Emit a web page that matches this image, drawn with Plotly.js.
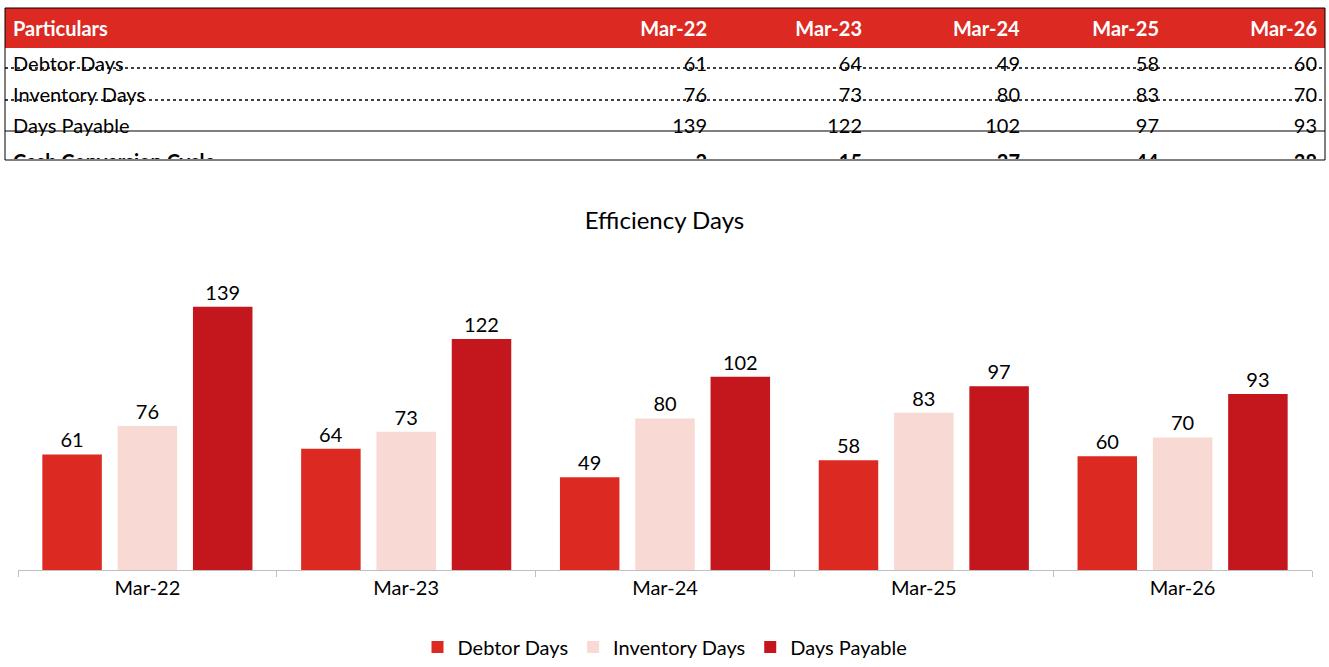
<!DOCTYPE html>
<html>
<head>
<meta charset="utf-8">
<script src="https://cdn.plot.ly/plotly-3.0.1.min.js"></script>
<style>html,body{margin:0;padding:0;background:#fff}</style>
</head>
<body>
<div id="chart" style="width:1329px;height:667px"></div>
<script>
// ── data ──
const periods = ['Mar-22', 'Mar-23', 'Mar-24', 'Mar-25', 'Mar-26'];
const debtorDays = [61, 64, 49, 58, 60];
const inventoryDays = [76, 73, 80, 83, 70];
const daysPayable = [139, 122, 102, 97, 93];
const cashCycle = [-2, 15, 27, 44, 38];
const rowNames = ['Debtor Days', 'Inventory Days', 'Days Payable', 'Cash Conversion Cycle'];

const FONT = 'Lato, "Open Sans", sans-serif';
const RED = '#DC2A22', PINK = '#F9D9D4', DARK = '#C3161D';

// table columns: one per period, bold on last row
const rows = [debtorDays, inventoryDays, daysPayable, cashCycle];
const cellCols = [rowNames.map((n, i) => i === 3 ? '<b>' + n + '</b>' : n)];
periods.forEach((p, j) => {
    cellCols.push(rows.map((r, i) => i === 3 ? '<b>' + r[j] + '</b>' : String(r[j])));
});

const table = {
    type: 'table',
    domain: { x: [0, 1], y: [0.72, 0.986] },
    columnwidth: [555, 155, 155, 158, 139, 158],
    header: {
        values: ['<b>Particulars</b>'].concat(periods.map(p => '<b>' + p + '</b>')),
        align: ['left', 'right', 'right', 'right', 'right', 'right'],
        fill: { color: RED }, line: { width: 0 },
        font: { family: FONT, size: 20, color: '#fff' }, height: 28
    },
    cells: {
        values: cellCols,
        align: ['left', 'right', 'right', 'right', 'right', 'right'],
        fill: { color: '#fff' }, line: { width: 0 },
        font: { family: FONT, size: 20, color: '#000' }, height: 31
    }
};

const bars = [
    { name: 'Debtor Days', y: debtorDays, color: RED },
    { name: 'Inventory Days', y: inventoryDays, color: PINK },
    { name: 'Days Payable', y: daysPayable, color: DARK }
].map(s => ({
    type: 'bar', x: periods, y: s.y, name: s.name,
    marker: { color: s.color },
    text: s.y.map(String), textposition: 'outside', cliponaxis: false,
    textfont: { family: FONT, size: 20, color: '#000' }
}));

// table rules in paper coords (paper height 570, width 1320)
const py = px => 1 - px / 570;
const shapes = [
    { type: 'rect', xref: 'paper', yref: 'paper', x0: 0, x1: 1, y0: py(160), y1: py(8), line: { color: '#000', width: 1 } },
    { type: 'line', xref: 'paper', yref: 'paper', x0: 0, x1: 1, y0: py(68), y1: py(68), line: { color: '#000', width: 1.5, dash: 'dot' } },
    { type: 'line', xref: 'paper', yref: 'paper', x0: 0, x1: 1, y0: py(100), y1: py(100), line: { color: '#000', width: 1.5, dash: 'dot' } },
    { type: 'line', xref: 'paper', yref: 'paper', x0: 0, x1: 1, y0: py(131), y1: py(131), line: { color: '#000', width: 1 } }
];

const layout = {
    width: 1329, height: 667,
    margin: { l: 5, r: 4, t: 0, b: 97 },
    paper_bgcolor: '#fff', plot_bgcolor: '#fff',
    font: { family: FONT, size: 20, color: '#000' },
    title: { text: 'Efficiency Days', font: { family: FONT, size: 24, color: '#000' }, x: 0.5, xanchor: 'center', y: 0.67, yref: 'container', yanchor: 'middle' },
    barmode: 'group', bargap: 0.127, bargroupgap: 0.21,
    xaxis: {
        domain: [13 / 1320, 1307 / 1320],
        showline: true, linecolor: '#BFBFBF', linewidth: 1,
        ticks: 'outside', tickson: 'boundaries', ticklen: 6, tickcolor: '#BFBFBF',
        tickfont: { family: FONT, size: 20 }, showgrid: false
    },
    yaxis: { domain: [0, 0.5316], range: [0, 160], visible: false, showgrid: false, zeroline: false },
    showlegend: true,
    legend: { orientation: 'h', x: 0.5, xanchor: 'center', y: -0.135, yanchor: 'middle', font: { family: FONT, size: 20 } },
    shapes: shapes
};

Plotly.newPlot('chart', [table].concat(bars), layout, { displayModeBar: false, staticPlot: true });
</script>
</body>
</html>
